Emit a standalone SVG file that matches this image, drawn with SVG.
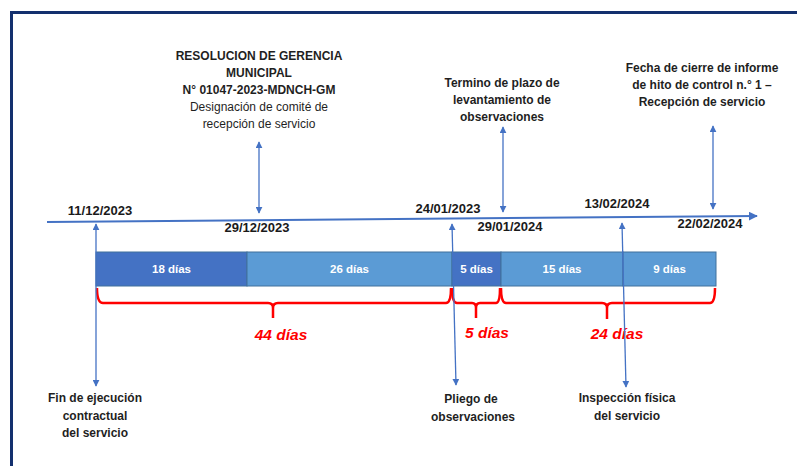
<svg xmlns="http://www.w3.org/2000/svg" width="797" height="466" viewBox="0 0 797 466">
<style>
.lbl{font-family:"Liberation Sans",Arial,sans-serif;font-size:12px;fill:#1f1f1f;text-anchor:middle}
.b{font-weight:bold}
.date{font-family:"Liberation Sans",Arial,sans-serif;font-size:13px;font-weight:bold;fill:#1a1a1a;text-anchor:middle}
.bar{stroke:#41719c;stroke-width:1}
.dark{fill:#4472c4}
.light{fill:#5b9bd5}
.bt{font-family:"Liberation Sans",Arial,sans-serif;font-size:11.5px;font-weight:bold;fill:#ffffff;text-anchor:middle}
.conn{stroke:#4472c4;stroke-width:1.3;fill:none}
.brace{stroke:#ff0000;stroke-width:2.5;fill:none;stroke-linejoin:round}
.red{font-family:"Liberation Sans",Arial,sans-serif;font-size:15.5px;font-weight:bold;font-style:italic;fill:#ff0000;text-anchor:middle}
</style>
<defs>
<marker id="ah" viewBox="0 0 10 10" refX="9" refY="5" markerWidth="7" markerHeight="7" markerUnits="userSpaceOnUse" orient="auto-start-reverse">
<path d="M0,0 L10,5 L0,10 z" fill="#4472c4"/>
</marker>
<marker id="ahl" viewBox="0 0 10 10" refX="9" refY="5" markerWidth="9" markerHeight="9" markerUnits="userSpaceOnUse" orient="auto">
<path d="M0,0 L10,5 L0,10 z" fill="#4472c4"/>
</marker>
</defs>
<rect width="797" height="466" fill="#ffffff"/>
<rect x="11.5" y="12.5" width="800" height="470" fill="none" stroke="#13306e" stroke-width="3"/>

<g id="timeline">
<line x1="47" y1="222" x2="757" y2="216" stroke="#4472c4" stroke-width="2" marker-end="url(#ahl)"/>
</g>

<g id="bars">
<rect class="bar dark" x="96" y="252" width="151" height="34"/>
<text class="bt" x="171.5" y="273">18 días</text>
<rect class="bar light" x="247" y="252" width="205" height="34"/>
<text class="bt" x="349.5" y="273">26 días</text>
<rect class="bar dark" x="452" y="252" width="49" height="34"/>
<text class="bt" x="476.5" y="273">5 días</text>
<rect class="bar light" x="501" y="252" width="122" height="34"/>
<text class="bt" x="562" y="273">15 días</text>
<rect class="bar light" x="623" y="252" width="93" height="34"/>
<text class="bt" x="669.5" y="273">9 días</text>
</g>

<g id="braces">
<path class="brace" d="M97,288 Q97,303 103,303 L268,303 Q273,303 273,308 L273,318 M273,308 Q273,303 278,303 L446,303 Q451,303 451,288"/>
<path class="brace" d="M452,288 Q452,303 457,303 L472,303 Q476,303 476,308 L476,318 M476,308 Q476,303 480,303 L496,303 Q500,303 500,288"/>
<path class="brace" d="M501,288 Q501,303 506,303 L602,303 Q607,303 607,308 L607,319 M607,308 Q607,303 612,303 L710,303 Q715,303 715,288"/>
<text class="red" x="281" y="340">44 días</text>
<text class="red" x="487" y="338">5 días</text>
<text class="red" x="617" y="339">24 días</text>
</g>

<g id="connectors">
<line class="conn" x1="259" y1="142" x2="259" y2="213" marker-start="url(#ah)" marker-end="url(#ah)"/>
<line class="conn" x1="503" y1="127" x2="503" y2="212" marker-start="url(#ah)" marker-end="url(#ah)"/>
<line class="conn" x1="713" y1="126" x2="713" y2="209" marker-start="url(#ah)" marker-end="url(#ah)"/>
<line class="conn" x1="96" y1="224" x2="96" y2="386" marker-start="url(#ah)" marker-end="url(#ah)"/>
<line class="conn" x1="452" y1="224" x2="456" y2="385" marker-start="url(#ah)" marker-end="url(#ah)"/>
<line class="conn" x1="622" y1="223" x2="626" y2="387" marker-start="url(#ah)" marker-end="url(#ah)"/>
</g>

<g id="dates">
<text class="date" x="100" y="215">11/12/2023</text>
<text class="date" x="257" y="232">29/12/2023</text>
<text class="date" x="448" y="213">24/01/2023</text>
<text class="date" x="510" y="231">29/01/2024</text>
<text class="date" x="617" y="208">13/02/2024</text>
<text class="date" x="710" y="228">22/02/2024</text>
</g>

<g id="node-resolucion">
<text class="lbl b" x="259" y="60">RESOLUCION DE GERENCIA</text>
<text class="lbl b" x="259" y="77">MUNICIPAL</text>
<text class="lbl b" x="259" y="94">N° 01047-2023-MDNCH-GM</text>
<text class="lbl" x="259" y="111">Designación de comité de</text>
<text class="lbl" x="259" y="128">recepción de servicio</text>
</g>

<g id="node-termino">
<text class="lbl b" x="502" y="87">Termino de plazo de</text>
<text class="lbl b" x="502" y="104">levantamiento de</text>
<text class="lbl b" x="502" y="121">observaciones</text>
</g>

<g id="node-fecha">
<text class="lbl b" x="702" y="72">Fecha de cierre de informe</text>
<text class="lbl b" x="702" y="89">de hito de control n.° 1 –</text>
<text class="lbl b" x="702" y="106">Recepción de servicio</text>
</g>

<g id="node-fin">
<text class="lbl b" x="95" y="402">Fin de ejecución</text>
<text class="lbl b" x="95" y="420">contractual</text>
<text class="lbl b" x="95" y="437">del servicio</text>
</g>

<g id="node-pliego">
<text class="lbl b" x="471" y="403">Pliego de</text>
<text class="lbl b" x="473" y="421">observaciones</text>
</g>

<g id="node-inspeccion">
<text class="lbl b" x="627" y="402">Inspección física</text>
<text class="lbl b" x="627" y="420">del servicio</text>
</g>
</svg>
